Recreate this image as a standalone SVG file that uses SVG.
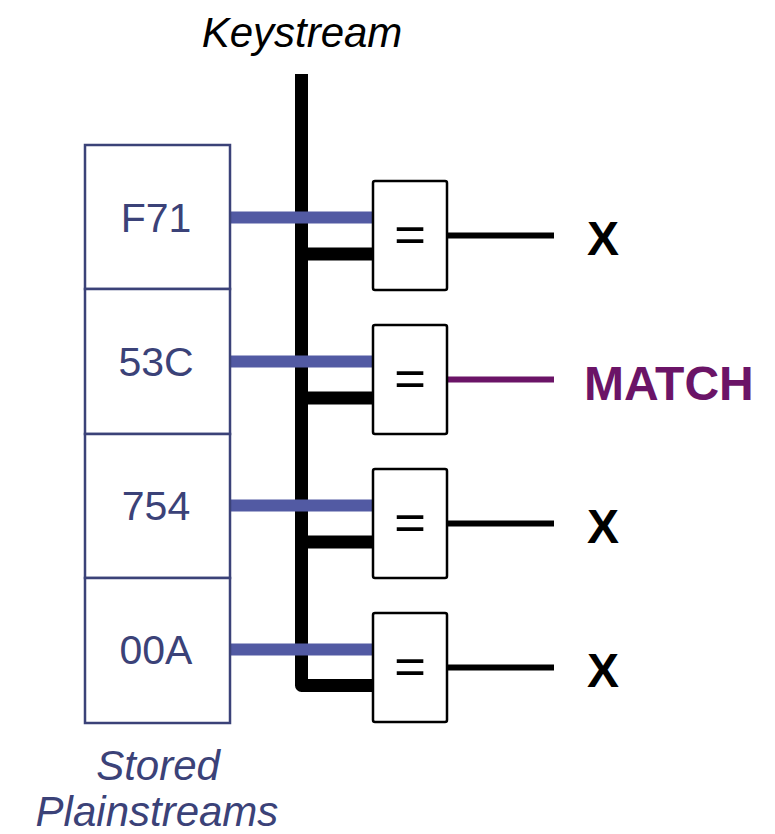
<svg xmlns="http://www.w3.org/2000/svg" width="775" height="834" viewBox="0 0 775 834">
<style>
.cell{fill:#fff;stroke:#3b4278;stroke-width:2.5}
.celltxt{font-family:"Liberation Sans",Arial,sans-serif;font-size:41px;fill:#3b4278;text-anchor:middle}
.gate{fill:#fff;stroke:#000;stroke-width:2.5}
.eq{font-family:"Open Sans","Liberation Sans",sans-serif;font-weight:400;font-size:58px;fill:#000;text-anchor:middle}
.blue{stroke:#525aa3;stroke-width:12;fill:none}
.blk{stroke:#000;stroke-width:13;fill:none;stroke-linejoin:round}
.out{stroke:#000;stroke-width:6;fill:none}
.outm{stroke:#6b1467;stroke-width:6;fill:none}
.x{font-family:"Liberation Sans",Arial,sans-serif;font-size:48px;font-weight:bold;fill:#000}
.match{font-family:"Liberation Sans",Arial,sans-serif;font-size:48px;font-weight:bold;fill:#6b1467}
.lbl{font-family:"Liberation Sans",Arial,sans-serif;font-size:42px;font-style:italic;text-anchor:middle}
</style>
<text class="lbl" x="302" y="47" fill="#000">Keystream</text>
<g id="connectors">
<path class="blk" d="M301.5 74 V685.5 H373"/>
<path class="blk" d="M301.5 254 H373 M301.5 398 H373 M301.5 542 H373"/>
<path class="blue" d="M230 217.5 H373 M230 361.5 H373 M230 505.5 H373 M230 649.5 H373"/>
<path class="out" d="M447 235.5 H554 M447 523.5 H554 M447 667.5 H554"/>
<path class="outm" d="M447 379.5 H554"/>
</g>
<g id="cell-F71"><rect class="cell" x="85" y="145" width="145" height="144"/><text class="celltxt" x="156" y="232">F71</text></g>
<g id="cell-53C"><rect class="cell" x="85" y="289" width="145" height="145"/><text class="celltxt" x="156" y="376">53C</text></g>
<g id="cell-754"><rect class="cell" x="85" y="434" width="145" height="144"/><text class="celltxt" x="156" y="520">754</text></g>
<g id="cell-00A"><rect class="cell" x="85" y="578" width="145" height="145"/><text class="celltxt" x="156" y="664">00A</text></g>
<g id="gate1"><rect class="gate" x="373" y="181" width="74" height="109" rx="2"/><text class="eq" x="410" y="256">=</text></g>
<g id="gate2"><rect class="gate" x="373" y="325" width="74" height="109" rx="2"/><text class="eq" x="410" y="400">=</text></g>
<g id="gate3"><rect class="gate" x="373" y="469" width="74" height="109" rx="2"/><text class="eq" x="410" y="544">=</text></g>
<g id="gate4"><rect class="gate" x="373" y="613" width="74" height="109" rx="2"/><text class="eq" x="410" y="688">=</text></g>
<g id="out1"><text class="x" x="587" y="255">X</text></g>
<g id="out2"><text class="match" x="584" y="400">MATCH</text></g>
<g id="out3"><text class="x" x="587" y="543">X</text></g>
<g id="out4"><text class="x" x="587" y="687">X</text></g>
<text class="lbl" x="158" y="780" fill="#3b4278">Stored</text>
<text class="lbl" x="157" y="826" fill="#3b4278">Plainstreams</text>
</svg>
